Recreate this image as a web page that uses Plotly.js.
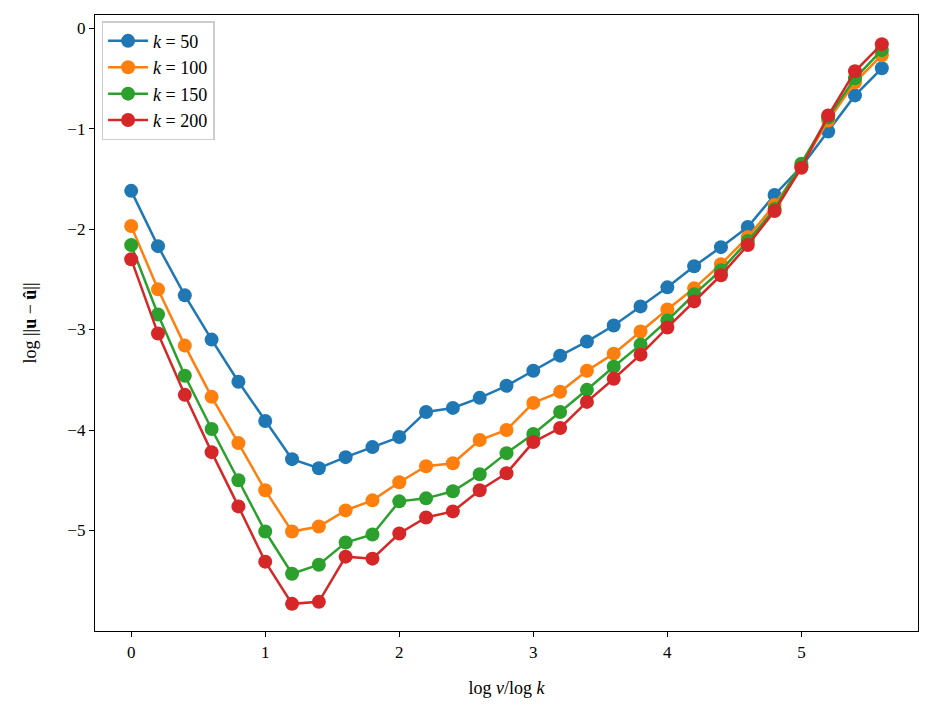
<!DOCTYPE html>
<html>
<head>
<meta charset="utf-8">
<script src="https://cdn.plot.ly/plotly-3.0.1.min.js"></script>
<style>html,body{margin:0;padding:0;background:#fff;}#plot{width:935px;height:716px;}</style>
</head>
<body>
<div id="plot"></div>
<script>
const xValues = [0,0.2,0.4,0.6,0.8,1.0,1.2,1.4,1.6,1.8,2.0,2.2,2.4,2.6,2.8,3.0,3.2,3.4,3.6,3.8,4.0,4.2,4.4,4.6,4.8,5.0,5.2,5.4,5.6];
const k50  = [-1.62,-2.17,-2.66,-3.10,-3.52,-3.91,-4.29,-4.38,-4.27,-4.17,-4.07,-3.82,-3.78,-3.68,-3.56,-3.41,-3.26,-3.12,-2.96,-2.77,-2.58,-2.37,-2.18,-1.98,-1.66,-1.38,-1.03,-0.67,-0.40];
const k100 = [-1.97,-2.60,-3.16,-3.67,-4.13,-4.60,-5.01,-4.96,-4.80,-4.70,-4.52,-4.36,-4.33,-4.10,-4.00,-3.73,-3.62,-3.41,-3.24,-3.02,-2.80,-2.59,-2.35,-2.08,-1.76,-1.37,-0.92,-0.54,-0.27];
const k150 = [-2.16,-2.85,-3.46,-3.99,-4.50,-5.01,-5.43,-5.34,-5.12,-5.04,-4.71,-4.68,-4.61,-4.44,-4.23,-4.04,-3.82,-3.60,-3.37,-3.15,-2.91,-2.65,-2.41,-2.12,-1.80,-1.35,-0.89,-0.50,-0.22];
const k200 = [-2.30,-3.04,-3.65,-4.22,-4.76,-5.31,-5.73,-5.71,-5.26,-5.28,-5.03,-4.87,-4.81,-4.60,-4.43,-4.12,-3.98,-3.72,-3.49,-3.25,-2.98,-2.72,-2.46,-2.16,-1.82,-1.39,-0.87,-0.43,-0.16];
const seriesNames = ["<i>k</i>\u00a0=\u00a050","<i>k</i>\u00a0=\u00a0100","<i>k</i>\u00a0=\u00a0150","<i>k</i>\u00a0=\u00a0200"];
const seriesData = [k50,k100,k150,k200];
const colors = ["#1f77b4","#ff7f0e","#2ca02c","#d62728"];
const xTicks = [0,1,2,3,4,5];
const yTicks = [0,-1,-2,-3,-4,-5];
const yTickText = ["0","\u22121","\u22122","\u22123","\u22124","\u22125"];

const traces = seriesData.map((d,i)=>({
  x: xValues, y: d, name: seriesNames[i], type:'scatter', mode:'lines+markers',
  line:{color:colors[i], width:2.5},
  marker:{color:colors[i], size:14}
}));
const fam = '"Liberation Serif", "DejaVu Serif", serif';
const layout = {
  width:935, height:716,
  margin:{l:95, r:17, t:15, b:85},
  paper_bgcolor:'#fff', plot_bgcolor:'#fff',
  font: {family:fam, size:17, color:'#000'},
  showlegend:true,
  legend:{x:0.008, y:0.99, xanchor:'left', yanchor:'top', bgcolor:'rgba(255,255,255,0.8)', bordercolor:'#cccccc', borderwidth:1.5, itemwidth:40, font:{family:fam, size:18, color:'#000'}, tracegroupgap:0},
  xaxis:{range:[-0.27,5.87], tickvals:xTicks, ticktext:xTicks.map(String), ticks:'outside', ticklen:5, tickwidth:1, tickcolor:'#000', showline:true, linecolor:'#000', linewidth:1.2, mirror:true, showgrid:false, zeroline:false,
    title:{text:'log <i>\u03bd</i>/log <i>k</i>', font:{family:fam, size:18}, standoff:20}},
  yaxis:{range:[-6.0,0.13], tickvals:yTicks, ticktext:yTickText, ticks:'outside', ticklen:5, tickwidth:1, tickcolor:'#000', showline:true, linecolor:'#000', linewidth:1.2, mirror:true, showgrid:false, zeroline:false,
    title:{text:'log ||<b>u</b> \u2212 <b>\u00fb</b>||', font:{family:fam, size:18}, standoff:26}}
};
Plotly.newPlot('plot', traces, layout, {displayModeBar:false, staticPlot:true});
</script>
</body>
</html>
